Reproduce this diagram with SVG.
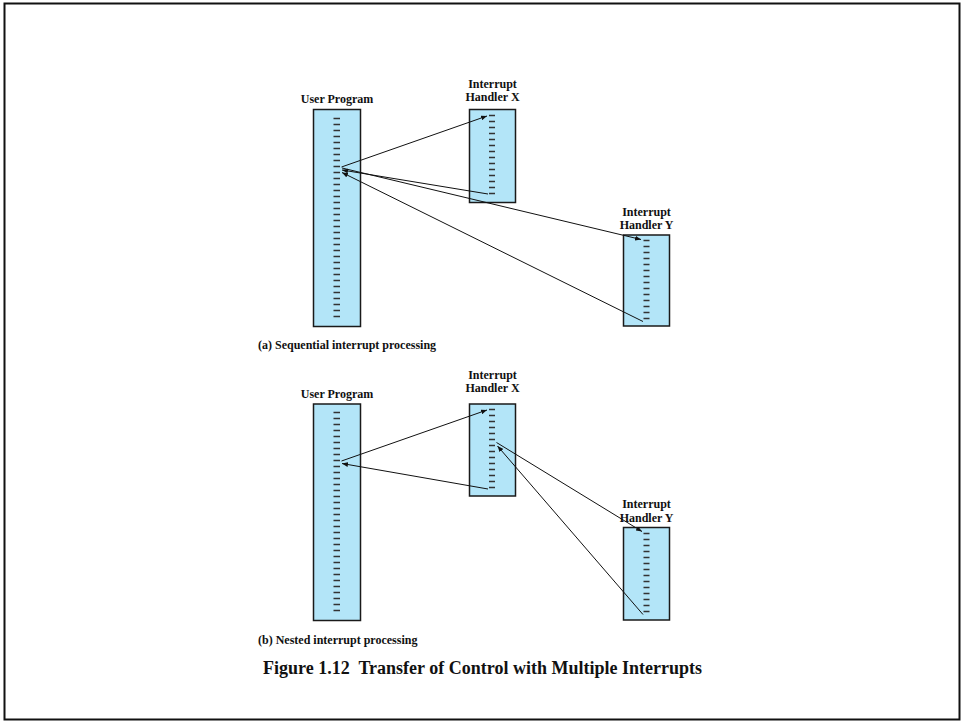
<svg xmlns="http://www.w3.org/2000/svg" width="961" height="721" viewBox="0 0 961 721">
<style>
  .box{fill:#b3e5f8;stroke:#1a1a1a;stroke-width:1.5}
  .tick{fill:none;stroke:#333;stroke-width:1.3}
  .lbl{font-family:"Liberation Serif","Times New Roman",serif;font-weight:bold;font-size:12px;fill:#111;text-anchor:middle}
  .cap{font-family:"Liberation Serif","Times New Roman",serif;font-weight:bold;font-size:12px;fill:#111}
  .fig{font-family:"Liberation Serif","Times New Roman",serif;font-weight:bold;font-size:18px;fill:#111;text-anchor:middle}
  .conn line{stroke:#111;stroke-width:1;marker-end:url(#ah)}
</style>
<defs>
  <marker id="ah" viewBox="0 0 10 8" refX="10" refY="4" markerWidth="6" markerHeight="4.8" markerUnits="userSpaceOnUse" orient="auto">
    <path d="M0,0 L10,4 L0,8 Z" fill="#111"/>
  </marker>
</defs>
<rect x="0" y="0" width="961" height="721" fill="#fff"/>
<rect x="4.5" y="3.5" width="955" height="716" fill="none" stroke="#111" stroke-width="2"/>

<!-- (a) -->
<g id="a-user">
  <rect class="box" x="313.5" y="109.5" width="47" height="217"/>
  <path class="tick" d="M333.5,118.5h6.5M333.5,124.5h6.5M333.5,130.5h6.5M333.5,136.5h6.5M333.5,142.5h6.5M333.5,148.5h6.5M333.5,154.5h6.5M333.5,160.5h6.5M333.5,166.5h6.5M333.5,172.5h6.5M333.5,178.5h6.5M333.5,184.5h6.5M333.5,190.5h6.5M333.5,196.5h6.5M333.5,202.5h6.5M333.5,208.5h6.5M333.5,214.5h6.5M333.5,220.5h6.5M333.5,226.5h6.5M333.5,232.5h6.5M333.5,238.5h6.5M333.5,244.5h6.5M333.5,250.5h6.5M333.5,256.5h6.5M333.5,262.5h6.5M333.5,268.5h6.5M333.5,274.5h6.5M333.5,280.5h6.5M333.5,286.5h6.5M333.5,292.5h6.5M333.5,298.5h6.5M333.5,304.5h6.5M333.5,310.5h6.5M333.5,316.5h6.5"/>
  <text class="lbl" x="337" y="103">User Program</text>
</g>
<g id="a-handlerX">
  <rect class="box" x="469.5" y="109.5" width="46" height="93"/>
  <path class="tick" d="M489,115.5h6M489,121.5h6M489,127.5h6M489,133.5h6M489,139.5h6M489,145.5h6M489,151.5h6M489,157.5h6M489,163.5h6M489,169.5h6M489,175.5h6M489,181.5h6M489,187.5h6M489,193.5h6"/>
  <text class="lbl" x="492.5" y="87.5">Interrupt</text>
  <text class="lbl" x="492.5" y="100.5">Handler X</text>
</g>
<g id="a-handlerY">
  <rect class="box" x="623.5" y="235" width="46" height="91"/>
  <path class="tick" d="M643.5,240.5h6M643.5,246.5h6M643.5,252.5h6M643.5,258.5h6M643.5,264.5h6M643.5,270.5h6M643.5,276.5h6M643.5,282.5h6M643.5,288.5h6M643.5,294.5h6M643.5,300.5h6M643.5,306.5h6M643.5,312.5h6M643.5,318.5h6"/>
  <text class="lbl" x="646.5" y="216">Interrupt</text>
  <text class="lbl" x="646.5" y="229">Handler Y</text>
</g>
<text class="cap" x="258" y="349">(a) Sequential interrupt processing</text>

<!-- (b) -->
<g id="b-user">
  <rect class="box" x="313.5" y="404" width="47" height="216.5"/>
  <path class="tick" d="M333.5,412.5h6.5M333.5,418.5h6.5M333.5,424.5h6.5M333.5,430.5h6.5M333.5,436.5h6.5M333.5,442.5h6.5M333.5,448.5h6.5M333.5,454.5h6.5M333.5,460.5h6.5M333.5,466.5h6.5M333.5,472.5h6.5M333.5,478.5h6.5M333.5,484.5h6.5M333.5,490.5h6.5M333.5,496.5h6.5M333.5,502.5h6.5M333.5,508.5h6.5M333.5,514.5h6.5M333.5,520.5h6.5M333.5,526.5h6.5M333.5,532.5h6.5M333.5,538.5h6.5M333.5,544.5h6.5M333.5,550.5h6.5M333.5,556.5h6.5M333.5,562.5h6.5M333.5,568.5h6.5M333.5,574.5h6.5M333.5,580.5h6.5M333.5,586.5h6.5M333.5,592.5h6.5M333.5,598.5h6.5M333.5,604.5h6.5M333.5,610.5h6.5"/>
  <text class="lbl" x="337" y="398">User Program</text>
</g>
<g id="b-handlerX">
  <rect class="box" x="469.5" y="404" width="46" height="92"/>
  <path class="tick" d="M489,409.5h6M489,415.5h6M489,421.5h6M489,427.5h6M489,433.5h6M489,439.5h6M489,445.5h6M489,451.5h6M489,457.5h6M489,463.5h6M489,469.5h6M489,475.5h6M489,481.5h6M489,487.5h6"/>
  <text class="lbl" x="492.5" y="379">Interrupt</text>
  <text class="lbl" x="492.5" y="392">Handler X</text>
</g>
<g id="b-handlerY">
  <rect class="box" x="623.5" y="527.5" width="46" height="92.5"/>
  <path class="tick" d="M643.5,533.5h6M643.5,539.5h6M643.5,545.5h6M643.5,551.5h6M643.5,557.5h6M643.5,563.5h6M643.5,569.5h6M643.5,575.5h6M643.5,581.5h6M643.5,587.5h6M643.5,593.5h6M643.5,599.5h6M643.5,605.5h6M643.5,611.5h6"/>
  <text class="lbl" x="646.5" y="508">Interrupt</text>
  <text class="lbl" x="646.5" y="521.5">Handler Y</text>
</g>
<text class="cap" x="258" y="644">(b) Nested interrupt processing</text>

<g id="connectors" class="conn">
  <line x1="341.5" y1="167" x2="487" y2="116"/>
  <line x1="488" y1="194" x2="342" y2="170"/>
  <line x1="342" y1="168" x2="641" y2="239.5"/>
  <line x1="643" y1="321.5" x2="342" y2="172.5"/>
  <line x1="341.5" y1="461" x2="487" y2="410"/>
  <line x1="488" y1="489" x2="342" y2="463.5"/>
  <line x1="496.5" y1="442.5" x2="642" y2="531.5"/>
  <line x1="643" y1="614.5" x2="497.5" y2="446"/>
</g>

<text class="fig" x="482.5" y="674" xml:space="preserve">Figure 1.12  Transfer of Control with Multiple Interrupts</text>
</svg>
